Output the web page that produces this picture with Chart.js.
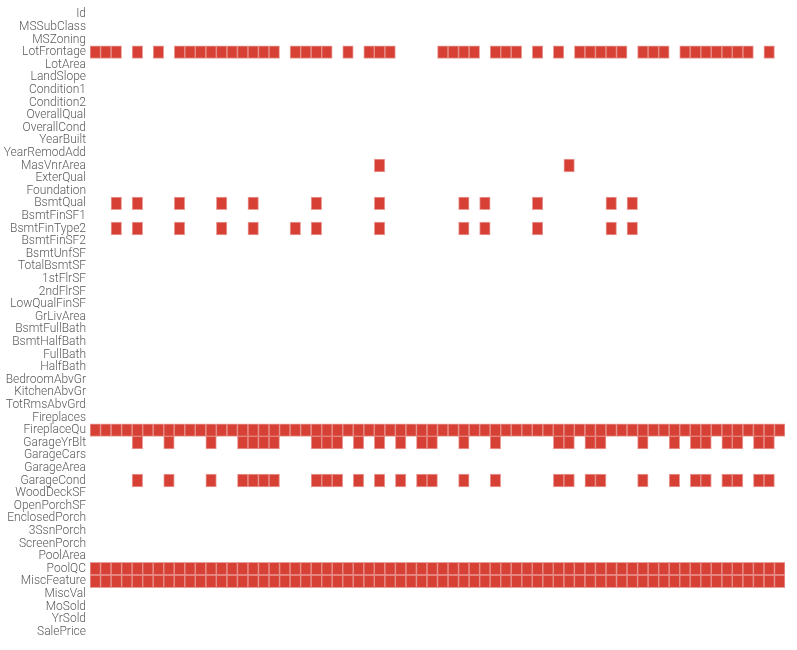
<!DOCTYPE html>
<html>
<head>
<meta charset="utf-8">
<script src="https://cdn.jsdelivr.net/npm/chart.js@4/dist/chart.umd.min.js"></script>
<style>
html,body{margin:0;padding:0;background:#fff;}
#wrap{width:797px;height:650px;position:relative;}
</style>
</head>
<body>
<div id="wrap"><canvas id="c"></canvas></div>
<script>
// Row labels (features)
const features = ["Id","MSSubClass","MSZoning","LotFrontage","LotArea","LandSlope","Condition1","Condition2","OverallQual","OverallCond","YearBuilt","YearRemodAdd","MasVnrArea","ExterQual","Foundation","BsmtQual","BsmtFinSF1","BsmtFinType2","BsmtFinSF2","BsmtUnfSF","TotalBsmtSF","1stFlrSF","2ndFlrSF","LowQualFinSF","GrLivArea","BsmtFullBath","BsmtHalfBath","FullBath","HalfBath","BedroomAbvGr","KitchenAbvGr","TotRmsAbvGrd","Fireplaces","FireplaceQu","GarageYrBlt","GarageCars","GarageArea","GarageCond","WoodDeckSF","OpenPorchSF","EnclosedPorch","3SsnPorch","ScreenPorch","PoolArea","PoolQC","MiscFeature","MiscVal","MoSold","YrSold","SalePrice"];

// number of sampled records (columns)
const nRecords = 66;

// Missing record indices per feature
const lotFrontageMissing = [0,1,2,4,6,8,9,10,11,12,13,14,15,16,17,19,20,21,22,24,26,27,28,33,34,35,36,38,39,40,42,44,46,47,48,49,50,52,53,54,56,57,58,59,60,61,62,64];
const masVnrAreaMissing = [27,45];
const bsmtQualMissing = [2,4,8,12,15,21,27,35,37,42,49,51];
const bsmtFinType2Missing = [2,4,8,12,15,19,21,27,35,37,42,49,51];
const fireplaceQuMissing = Array.from({length: nRecords}, (_, i) => i);
const garageYrBltMissing = [4,7,11,14,15,16,17,21,22,23,25,27,29,31,32,35,38,44,45,47,48,52,55,57,58,60,61,63,64];
const garageCondMissing = [4,7,11,14,15,16,17,21,22,23,25,27,29,31,32,35,38,44,45,47,48,52,55,57,58,60,61,63,64];
const poolQCMissing = Array.from({length: nRecords}, (_, i) => i);
const miscFeatureMissing = Array.from({length: nRecords}, (_, i) => i);

const missingByFeature = {
  "LotFrontage": lotFrontageMissing,
  "MasVnrArea": masVnrAreaMissing,
  "BsmtQual": bsmtQualMissing,
  "BsmtFinType2": bsmtFinType2Missing,
  "FireplaceQu": fireplaceQuMissing,
  "GarageYrBlt": garageYrBltMissing,
  "GarageCond": garageCondMissing,
  "PoolQC": poolQCMissing,
  "MiscFeature": miscFeatureMissing
};

// one dataset per record column; floating bar [i, i+1] where missing
const datasets = [];
for (let i = 0; i < nRecords; i++) {
  datasets.push({
    data: features.map(f => (missingByFeature[f] && missingByFeature[f].includes(i)) ? [i, i + 1] : null),
    backgroundColor: 'rgb(214,64,53)',
    borderColor: 'rgba(214,64,53,0.5)',
    borderWidth: 1,
    borderSkipped: false,
    grouped: false,
    barPercentage: 1,
    categoryPercentage: 1
  });
}

new Chart(document.getElementById('c'), {
  type: 'bar',
  data: { labels: features, datasets },
  options: {
    indexAxis: 'y',
    responsive: true,
    maintainAspectRatio: false,
    animation: false,
    layout: { padding: { top: 8, bottom: 12, right: 12, left: 0 } },
    plugins: { legend: { display: false }, tooltip: { enabled: false } },
    scales: {
      x: { type: 'linear', min: 0, max: nRecords, display: false },
      y: {
        grid: { display: false, drawTicks: false },
        border: { display: false },
        ticks: { color: '#5a5a5a', padding: 4, autoSkip: false, font: { family: 'Roboto', size: 12, weight: 300 } },
        afterFit: s => { s.width = 90; s.paddingTop = 0; s.paddingBottom = 0; }
      }
    }
  }
});
</script>
</body>
</html>
